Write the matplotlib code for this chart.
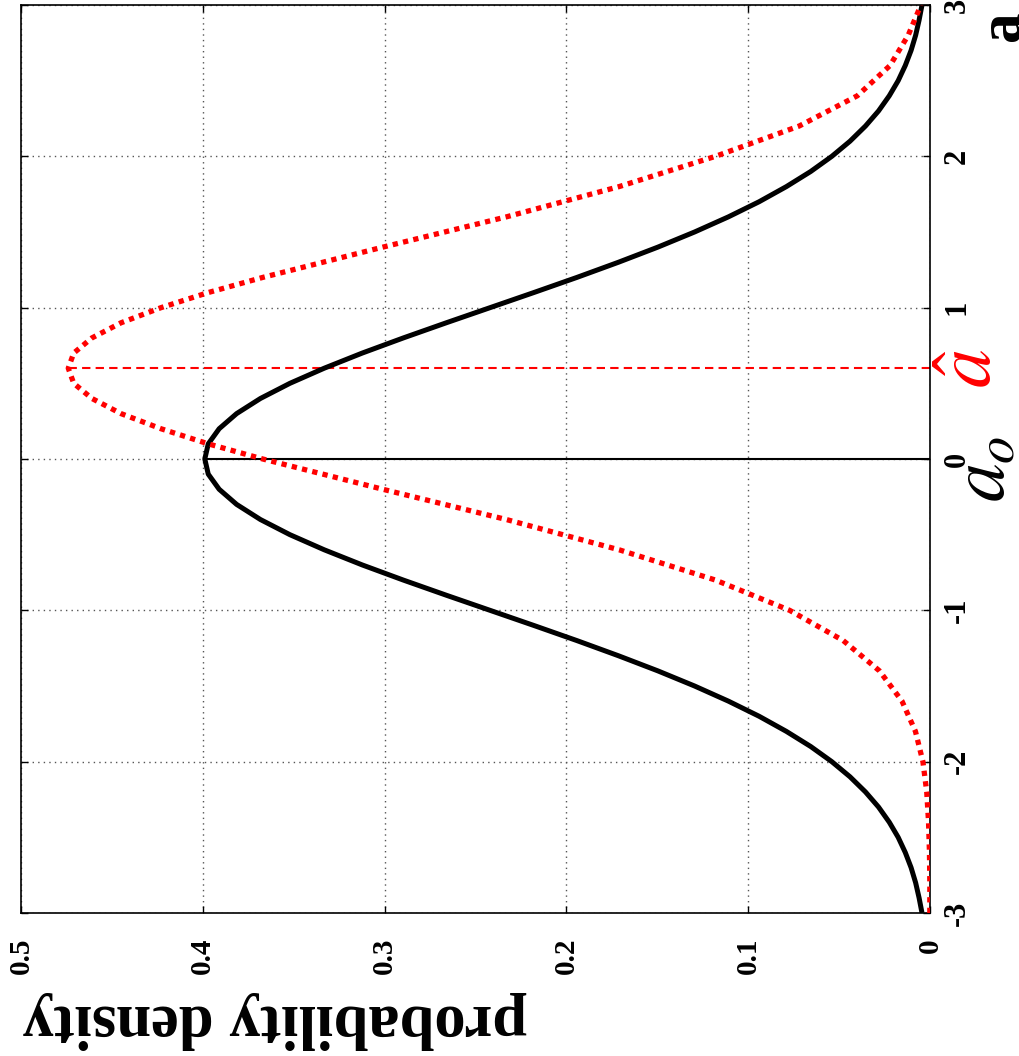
import numpy as np
import matplotlib
matplotlib.use("Agg")
import matplotlib.pyplot as plt
from matplotlib import transforms

plt.rcParams['font.family'] = ['Liberation Serif', 'DejaVu Serif']
plt.rcParams['mathtext.fontset'] = 'stix'

# black curve: density of a_o
x_black = [-3.0, -2.9, -2.8, -2.7, -2.6, -2.5, -2.4, -2.3, -2.2, -2.1,
           -2.0, -1.9, -1.8, -1.7, -1.6, -1.5, -1.4, -1.3, -1.2, -1.1,
           -1.0, -0.9, -0.8, -0.7, -0.6, -0.5, -0.4, -0.3, -0.2, -0.1,
           0.0, 0.1, 0.2, 0.3, 0.4, 0.5, 0.6, 0.7, 0.8, 0.9,
           1.0, 1.1, 1.2, 1.3, 1.4, 1.5, 1.6, 1.7, 1.8, 1.9,
           2.0, 2.1, 2.2, 2.3, 2.4, 2.5, 2.6, 2.7, 2.8, 2.9, 3.0]
d_black = [0.0044, 0.0060, 0.0079, 0.0104, 0.0136, 0.0175, 0.0224, 0.0283, 0.0355, 0.0440,
           0.0540, 0.0656, 0.0790, 0.0940, 0.1109, 0.1295, 0.1497, 0.1714, 0.1942, 0.2179,
           0.2420, 0.2661, 0.2897, 0.3123, 0.3332, 0.3521, 0.3683, 0.3814, 0.3910, 0.3970,
           0.3989, 0.3970, 0.3910, 0.3814, 0.3683, 0.3521, 0.3332, 0.3123, 0.2897, 0.2661,
           0.2420, 0.2179, 0.1942, 0.1714, 0.1497, 0.1295, 0.1109, 0.0940, 0.0790, 0.0656,
           0.0540, 0.0440, 0.0355, 0.0283, 0.0224, 0.0175, 0.0136, 0.0104, 0.0079, 0.0060, 0.0044]

# red dotted curve: density of a-hat
x_red = [-3.0, -2.8, -2.6, -2.4, -2.2, -2.0, -1.8, -1.6, -1.4, -1.2,
         -1.0, -0.8, -0.6, -0.4, -0.2, 0.0, 0.1, 0.2, 0.3, 0.4,
         0.5, 0.6, 0.7, 0.8, 0.9, 1.0, 1.1, 1.2, 1.4, 1.6,
         1.8, 2.0, 2.2, 2.4, 2.6, 2.8, 3.0]
d_red = [0.0001, 0.0001, 0.0003, 0.0008, 0.0018, 0.0039, 0.0080, 0.0154, 0.0278, 0.0477,
         0.0772, 0.118, 0.171, 0.233, 0.301, 0.367, 0.397, 0.423, 0.445, 0.461,
         0.471, 0.474, 0.471, 0.461, 0.445, 0.423, 0.397, 0.367, 0.301, 0.233,
         0.171, 0.118, 0.072, 0.040, 0.022, 0.012, 0.005]

a_o = 0.0
a_hat = 0.6
peak_black = 0.399
peak_red = 0.474

dens_ticks = [0, 0.1, 0.2, 0.3, 0.4, 0.5]
dens_labels = ['0', '0.1', '0.2', '0.3', '0.4', '0.5']
x_ticks = [-3, -2, -1, 0, 1, 2, 3]
x_labels = ['-3', '-2', '-1', '0', '1', '2', '3']

W, H = 1020, 1056
fig = plt.figure(figsize=(W / 100, H / 100), dpi=100)
ax = fig.add_axes([21 / W, 1 - 913 / H, 909 / W, 908 / H])

# chart is drawn turned by 90 degrees: density runs right-to-left, a runs upward
ax.plot(d_black, x_black, color='black', lw=3.6, solid_capstyle='butt', zorder=3)
ax.plot(d_red, x_red, color='red', lw=3.8, linestyle=(0, (1, 1)), zorder=4)
ax.plot([0, peak_black], [a_o, a_o], color='black', lw=1.5, zorder=2)
ax.plot([0, peak_red], [a_hat, a_hat], color='red', lw=1.5, linestyle=(0, (4, 2.5)), zorder=2)

ax.set_xlim(0.5, 0)
ax.set_ylim(-3, 3)

ax.set_xticks(dens_ticks)
ax.set_xticklabels(dens_labels, rotation=90, fontsize=21, fontweight='bold')
ax.set_yticks(x_ticks)
ax.set_yticklabels(x_labels, rotation=90, fontsize=22, fontweight='bold', va='center')
ax.yaxis.tick_right()
ax.tick_params(axis='both', direction='in', length=5, width=1, top=True, bottom=True,
               left=True, right=True, labelleft=False, labelright=True)
ax.tick_params(axis='x', pad=18)
ax.tick_params(axis='y', pad=9)

ax.grid(True, color='#555555', lw=1, linestyle=(0, (1, 3)))
ax.set_axisbelow(True)
for s in ax.spines.values():
    s.set_linewidth(1.2)

trans = transforms.blended_transform_factory(ax.transAxes, ax.transData)
ax.text(1.0605, -0.066, r'$a_o$', transform=trans, rotation=90, fontsize=56,
        ha='center', va='center', clip_on=False)
ax.text(1.046, a_hat, r'$\hat{a}$', transform=trans, rotation=90, fontsize=56,
        color='red', ha='center', va='center', clip_on=False)

fig.text(275 / W, 1 - 1020 / H, 'probability density', rotation=180, fontsize=45,
         fontweight='bold', ha='center', va='center')
fig.text(976 / W, 1 - 26 / H, 'a', rotation=90, fontsize=44, fontweight='bold',
         ha='left', va='center')

fig.savefig('out.png', dpi=100)
